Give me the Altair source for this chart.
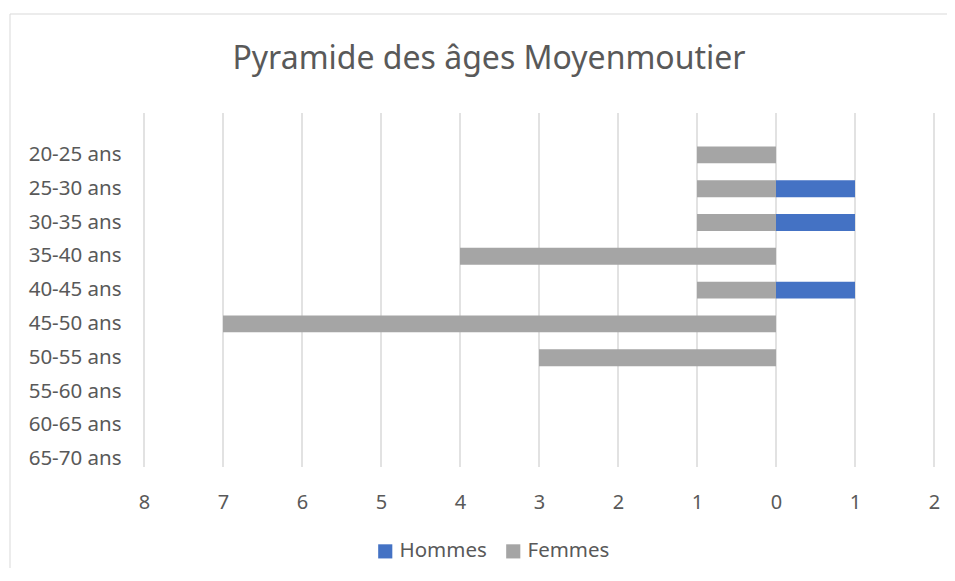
import altair as alt
import pandas as pd

categories = ["20-25 ans", "25-30 ans", "30-35 ans", "35-40 ans", "40-45 ans",
              "45-50 ans", "50-55 ans", "55-60 ans", "60-65 ans", "65-70 ans"]
hommes = [0, 1, 1, 0, 1, 0, 0, 0, 0, 0]
femmes = [1, 1, 1, 4, 1, 7, 3, 0, 0, 0]
series = ["Hommes", "Femmes"]
colors = ["#4472C4", "#A5A5A5"]
ticks = list(range(-8, 3))
title = "Pyramide des âges Moyenmoutier"

rows = []
for c, h, f in zip(categories, hommes, femmes):
    if h:
        rows.append({"age": c, "sexe": "Hommes", "valeur": h})
    if f:
        rows.append({"age": c, "sexe": "Femmes", "valeur": -f})
df = pd.DataFrame(rows)

font = "Noto Sans"
txt = "#595959"
xscale = alt.Scale(domain=[-8, 2], nice=False, zero=False)
xaxis = alt.Axis(values=ticks, labelExpr="abs(datum.value)", domain=False, ticks=False,
                 grid=False, labelFontSize=20, labelColor=txt, labelFont=font,
                 labelPadding=16, labelFlush=False, labelOverlap=False, title=None)

grid = alt.Chart(pd.DataFrame({"t": ticks})).mark_rule(color="#D9D9D9", strokeWidth=1.5).encode(
    x=alt.X("t:Q", scale=xscale, axis=xaxis),
    y=alt.value(-25), y2=alt.value(329),
)

bars = alt.Chart(df).mark_bar().encode(
    x=alt.X("valeur:Q", stack=None, scale=xscale, axis=xaxis),
    y=alt.Y("age:N", sort=categories,
            scale=alt.Scale(domain=categories, paddingInner=0.5, paddingOuter=0.25),
            axis=alt.Axis(domain=False, ticks=False, grid=False, labelFontSize=20.5, labelColor=txt,
                          labelFont=font, labelPadding=23, title=None)),
    color=alt.Color("sexe:N", scale=alt.Scale(domain=series, range=colors),
                    legend=alt.Legend(orient="none", legendX=231, legendY=403, direction="horizontal",
                                      symbolType="square", symbolSize=200, symbolStrokeWidth=0,
                                      labelFontSize=20.5, labelColor=txt, labelFont=font,
                                      columnPadding=16, title=None)),
)

one = alt.Data(values=[{"a": 1}])
left_border = alt.Chart(one).mark_rule(color="#D9D9D9", strokeWidth=1).encode(
    x=alt.value(-134), y=alt.value(-124), y2=alt.value(440))
top_border = alt.Chart(one).mark_rule(color="#D9D9D9", strokeWidth=1).encode(
    x=alt.value(-134), x2=alt.value(810), y=alt.value(-124))
title_mark = alt.Chart(alt.Data(values=[{"t": title}])).mark_text(
    font=font, fontSize=32, color=txt, align="center", baseline="alphabetic").encode(
    text="t:N", x=alt.value(345), y=alt.value(-69))

chart = alt.layer(left_border, top_border, title_mark, grid, bars).properties(
    width=790, height=338,
    autosize=alt.AutoSizeParams(type="none"),
    padding={"left": 136, "top": 130, "right": 13, "bottom": 92},
    background="white",
).configure_view(stroke=None)

chart.save("out.html", embed_options={"renderer": "svg", "actions": False})
